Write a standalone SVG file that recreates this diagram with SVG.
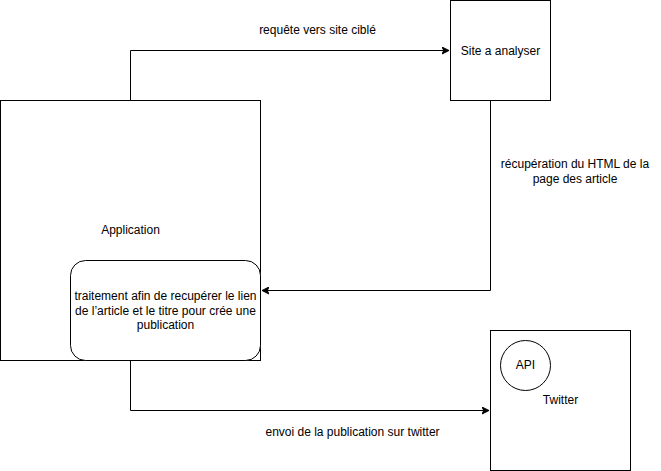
<svg xmlns="http://www.w3.org/2000/svg" width="661" height="471" viewBox="0 0 661 471">
<style>
.box{fill:#ffffff;stroke:#000000;stroke-width:1}
.edge{fill:none;stroke:#000000;stroke-width:1}
text{font-family:"Liberation Sans",Arial,Helvetica,sans-serif;font-size:12px;fill:#000000;text-anchor:middle;dominant-baseline:central}
</style>
<defs>
<marker id="arrow" markerUnits="userSpaceOnUse" markerWidth="8" markerHeight="8" refX="7" refY="4" orient="auto">
<path d="M0,0.5 L7,4 L0,7.5 L1.75,4 Z" fill="#000000" stroke="#000000" stroke-width="1"/>
</marker>
</defs>
<rect width="661" height="471" fill="#ffffff"/>
<g id="application">
<rect class="box" x="0.5" y="100.5" width="260" height="260"/>
<text x="130.5" y="230">Application</text>
</g>
<g id="traitement">
<rect class="box" x="70.5" y="260.5" width="190" height="100" rx="15" ry="15"/>
<text x="165.5" y="296">traitement afin de recupérer le lien</text>
<text x="165.5" y="310.5">de l’article et le titre pour crée une</text>
<text x="165.5" y="325">publication</text>
</g>
<g id="site">
<rect class="box" x="450.5" y="0.5" width="100" height="100"/>
<text x="500.5" y="50.5">Site a analyser</text>
</g>
<g id="twitter">
<rect class="box" x="490.5" y="330.5" width="140" height="140"/>
<text x="560.5" y="400">Twitter</text>
</g>
<g id="api">
<circle class="box" cx="525.5" cy="365.5" r="25"/>
<text x="525.5" y="365">API</text>
</g>
<g id="connectors">
<path class="edge" d="M130.5,100.5 L130.5,50.5 L449,50.5" marker-end="url(#arrow)"/>
<path class="edge" d="M490.5,100.5 L490.5,290.5 L262,290.5" marker-end="url(#arrow)"/>
<path class="edge" d="M130.5,360.5 L130.5,410.5 L489,410.5" marker-end="url(#arrow)"/>
<text x="317.5" y="30">requête vers site ciblé</text>
<text x="575" y="164">récupération du HTML de la</text>
<text x="575" y="179">page des article</text>
<text x="352.5" y="431.5">envoi de la publication sur twitter</text>
</g>
</svg>
